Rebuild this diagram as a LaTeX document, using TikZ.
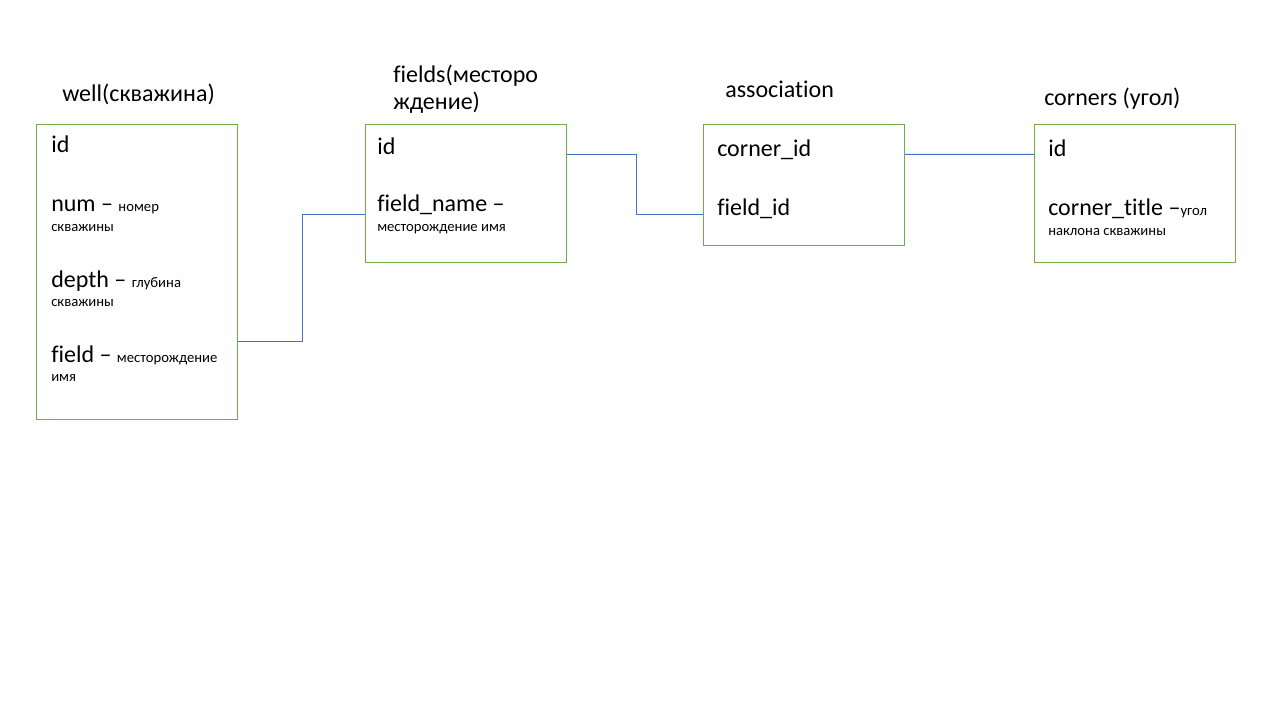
\documentclass[tikz,border=0pt]{standalone}
\usepackage{fontspec}
\setmainfont{Carlito}[Ligatures=CommonOff]
\usepackage{tikz}
\definecolor{boxgreen}{RGB}{112,173,71}
\definecolor{linkblue}{RGB}{68,114,196}
\newcommand{\sm}[1]{{\fontsize{11}{13}\selectfont #1}}

\begin{document}
\begin{tikzpicture}[x=0.75pt,y=-0.75pt]

\tikzstyle{table}=[rectangle,draw=boxgreen,line width=0.75pt,inner sep=0pt,anchor=north west,minimum width=150.75pt]
\tikzstyle{title}=[anchor=base west,inner sep=0pt,font=\fontsize{18}{22}\selectfont]
\tikzstyle{attr}=[anchor=base west,inner sep=0pt,font=\fontsize{18}{22}\selectfont]
\tikzstyle{note}=[anchor=base west,inner sep=0pt,font=\fontsize{11}{13}\selectfont]
\tikzstyle{link}=[draw=linkblue,line width=0.75pt]
\useasboundingbox (0,0) rectangle (1280,720);

\node[table,minimum height=221.25pt] (well) at (36,124) {};
\node[table,minimum height=103.5pt] (fields) at (365,124) {};
\node[table,minimum height=90.75pt] (assoc) at (703,124) {};
\node[table,minimum height=103.5pt] (corners) at (1034,124) {};

\node[title] (welltitle) at (62,102) {well(скважина)};
\node[title] (fieldstitle) at (393,83) {fields(месторо};
\node[title] (fieldstitle2) at (393,110) {ждение)};
\node[title] (assoctitle) at (725,98) {association};
\node[title] (cornerstitle) at (1044,106) {corners (угол)};

\node[attr] (wid) at (51,153) {id};
\node[attr] (wnum) at (51,212) {num – \sm{номер}};
\node[note] (wnum2) at (51,232) {скважины};
\node[attr] (wdepth) at (51,287) {depth – \sm{глубина}};
\node[note] (wdepth2) at (51,306) {скважины};
\node[attr] (wfield) at (51,362) {field – \sm{месторождение}};
\node[note] (wfield2) at (51,381) {имя};

\node[attr] (fid) at (377,155) {id};
\node[attr] (fname) at (377,212) {field\_name –};
\node[note] (fname2) at (377,232) {месторождение имя};

\node[attr] (acorner) at (717,157) {corner\_id};
\node[attr] (afield) at (717,215) {field\_id};

\node[attr] (cid) at (1048,157) {id};
\node[attr] (ctitle) at (1048,216) {corner\_title –\sm{угол}};
\node[note] (ctitle2) at (1048,236) {наклона скважины};

\draw[link] ([yshift=-52.1pt]well.east) -- ++(64,0) |- ([yshift=-15.75pt]fields.west);
\draw[link] ([yshift=29.25pt]fields.east) -- ++(69,0) |- ([yshift=-22.1pt]assoc.west);
\draw[link] ([yshift=22.9pt]assoc.east) -- ([yshift=29.25pt]corners.west);
\end{tikzpicture}
\end{document}
